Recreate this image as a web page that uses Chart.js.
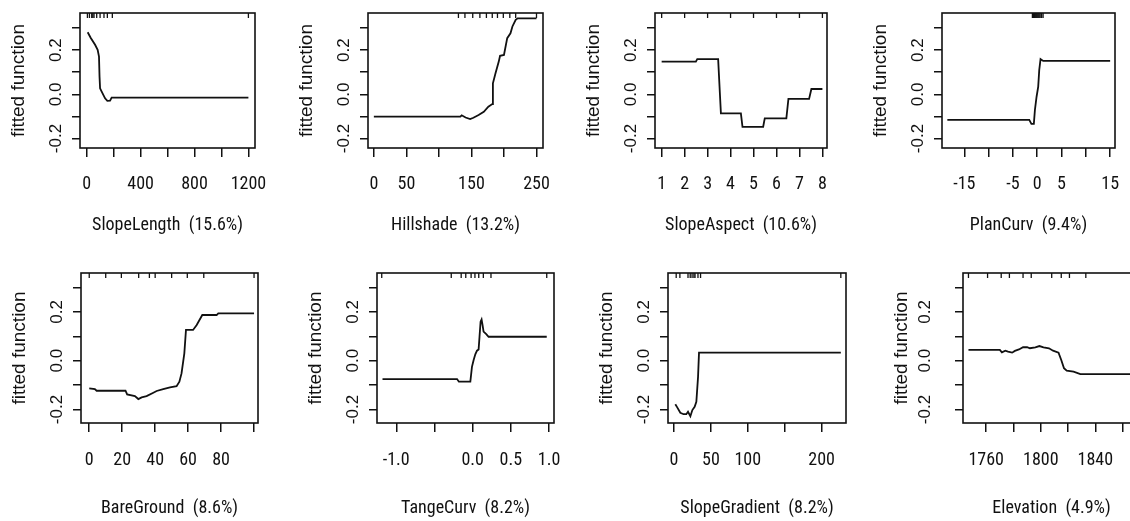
<!DOCTYPE html>
<html><head><meta charset="utf-8">
<script src="https://cdn.jsdelivr.net/npm/chart.js@4.4.1/dist/chart.umd.min.js"></script>
<style>
html,body{margin:0;padding:0;background:#fff;overflow:hidden;width:1130px;height:521px;position:relative;}
canvas{position:absolute;}
</style></head><body>
<script>
// ---------- data ----------
const yTicks = [-0.2, -0.1, 0, 0.1, 0.2, 0.3];
const yTickLabels = ['-0.2', '', '0.0', '', '0.2', ''];
const yTitle = 'fitted function';

const titles = ['SlopeLength  (15.6%)', 'Hillshade  (13.2%)', 'SlopeAspect  (10.6%)', 'PlanCurv  (9.4%)',
                'BareGround  (8.6%)', 'TangeCurv  (8.2%)', 'SlopeGradient  (8.2%)', 'Elevation  (4.9%)'];

const slopeLengthX = [7, 30, 62, 81, 91, 95, 99, 111, 136, 153, 173, 185, 1200];
const slopeLengthY = [0.281, 0.255, 0.224, 0.201, 0.171, 0.08, 0.027, 0.012, -0.018, -0.030, -0.029, -0.015, -0.015];
const slopeLengthRug = [5, 20, 37, 45, 54, 74, 99, 128, 153, 190, 1200];
const slopeLengthTicks = [0, 200, 400, 600, 800, 1000, 1200];
const slopeLengthTickLabels = ['0', '', '400', '', '800', '', '1200'];

const hillshadeX = [0, 133, 135, 141, 148, 153, 161, 169, 176, 182, 183, 187, 192, 194, 200, 205, 210, 213, 218, 221, 250];
const hillshadeY = [-0.101, -0.101, -0.095, -0.105, -0.112, -0.106, -0.094, -0.079, -0.056, -0.044, 0.05, 0.095, 0.148, 0.174, 0.178, 0.254, 0.276, 0.307, 0.337, 0.344, 0.344];
const hillshadeRug = [130, 140, 152, 163, 173, 182, 190, 199, 209, 218, 250];
const hillshadeTicks = [0, 50, 100, 150, 200, 250];
const hillshadeTickLabels = ['0', '50', '', '150', '', '250'];

const slopeAspectX = [1, 2.49, 2.55, 3.46, 3.52, 3.58, 4.45, 4.52, 5.42, 5.49, 6.43, 6.52, 7.42, 7.52, 8];
const slopeAspectY = [0.148, 0.148, 0.159, 0.159, 0.035, -0.086, -0.086, -0.147, -0.147, -0.109, -0.109, -0.021, -0.021, 0.024, 0.024];
const slopeAspectRug = [1, 2, 3, 4, 5, 6, 7, 8];
const slopeAspectTicks = [1, 2, 3, 4, 5, 6, 7, 8];
const slopeAspectTickLabels = ['1', '2', '3', '4', '5', '6', '7', '8'];

const planCurvX = [-18.5, -1.64, -1.2, -0.7, -0.48, -0.14, 0.2, 0.41, 0.68, 1.23, 15];
const planCurvY = [-0.116, -0.116, -0.134, -0.134, -0.071, -0.011, 0.035, 0.11, 0.159, 0.151, 0.151];
const planCurvRug = [-1, -0.8, -0.6, -0.4, -0.2, 0, 0.2, 0.4, 0.6, 0.9, 1.2];
const planCurvTicks = [-15, -10, -5, 0, 5, 10, 15];
const planCurvTickLabels = ['-15', '', '-5', '0', '5', '', '15'];

const bareGroundX = [0, 3.4, 4.5, 22, 23, 27.7, 29.8, 31.8, 34.8, 38.9, 40.9, 44.9, 49, 53, 54.7, 56, 57.7, 58.7, 63, 65.2, 68.6, 77.3, 78.3, 100];
const bareGroundY = [-0.113, -0.116, -0.123, -0.123, -0.138, -0.145, -0.157, -0.150, -0.145, -0.131, -0.124, -0.116, -0.109, -0.104, -0.086, -0.052, 0.03, 0.126, 0.126, 0.146, 0.187, 0.187, 0.194, 0.194];
const bareGroundRug = [0, 10, 19.5, 30, 36.5, 40, 50, 59.5, 69.5, 100];
const bareGroundTicks = [0, 20, 40, 60, 80, 100];
const bareGroundTickLabels = ['0', '20', '40', '60', '80', ''];

const tangeCurvX = [-1.18, -0.204, -0.18, -0.03, -0.009, 0.013, 0.035, 0.057, 0.078, 0.09, 0.104, 0.117, 0.13, 0.143, 0.178, 0.209, 0.97];
const tangeCurvY = [-0.075, -0.075, -0.086, -0.086, -0.025, 0.003, 0.026, 0.041, 0.046, 0.098, 0.16, 0.169, 0.146, 0.119, 0.109, 0.098, 0.098];
const tangeCurvRug = [-1.19, -0.28, -0.15, -0.09, -0.02, 0.03, 0.08, 0.14, 0.24, 0.97];
const tangeCurvTicks = [-1, -0.5, 0, 0.5, 1];
const tangeCurvTickLabels = ['-1.0', '', '0.0', '0.5', '1.0'];

const slopeGradientX = [1.8, 4, 8.6, 13, 16.7, 19, 22.2, 24.9, 28, 30.3, 32.6, 33.9, 226];
const slopeGradientY = [-0.178, -0.189, -0.213, -0.219, -0.219, -0.209, -0.227, -0.202, -0.189, -0.168, -0.066, 0.033, 0.033];
const slopeGradientRug = [3, 8, 19, 22, 24.5, 27, 28.5, 32.5, 36, 226];
const slopeGradientTicks = [0, 50, 100, 150, 200];
const slopeGradientTickLabels = ['0', '50', '100', '', '200'];

const elevationX = [1747, 1770, 1771.5, 1774, 1776, 1779, 1781, 1784, 1787, 1790, 1792, 1796, 1799, 1802, 1806, 1809, 1813, 1815, 1817, 1819, 1824, 1829, 1868];
const elevationY = [0.044, 0.044, 0.034, 0.041, 0.037, 0.033, 0.040, 0.046, 0.055, 0.055, 0.051, 0.055, 0.060, 0.055, 0.051, 0.041, 0.033, 0.003, -0.031, -0.041, -0.045, -0.055, -0.055];
const elevationRug = [1747, 1761, 1771, 1777, 1787, 1793, 1808, 1815, 1821, 1833, 1868];
const elevationTicks = [1760, 1780, 1800, 1820, 1840, 1860];
const elevationTickLabels = ['1760', '', '1800', '', '1840', ''];

// ---------- layout ----------
const NARROW = "'Roboto Condensed', 'Liberation Sans', Arial, sans-serif";
const SANS = "'Liberation Sans', Arial, sans-serif";
const rows = [
  {top: 0, height: 260, boxTop: 13, boxBottom: 148, yMin: -0.243, yMax: 0.368, tickPad: 16.3, titlePad: 23.4},
  {top: 260, height: 261, boxTop: 273, boxBottom: 423, yMin: -0.255, yMax: 0.359, tickPad: 17.5, titlePad: 1.4}
];
const panels = [
  {row: 0, boxL: 80,  boxR: 255,  xMin: -50,   xMax: 1249,   yPad: 1.4, x: slopeLengthX, y: slopeLengthY, rug: slopeLengthRug, ticks: slopeLengthTicks, labels: slopeLengthTickLabels},
  {row: 0, boxL: 368, boxR: 543,  xMin: -9,    xMax: 260,    yPad: 1.4, x: hillshadeX, y: hillshadeY, rug: hillshadeRug, ticks: hillshadeTicks, labels: hillshadeTickLabels},
  {row: 0, boxL: 655, boxR: 827,  xMin: 0.71,  xMax: 8.2,    yPad: 1.4, x: slopeAspectX, y: slopeAspectY, rug: slopeAspectRug, ticks: slopeAspectTicks, labels: slopeAspectTickLabels},
  {row: 0, boxL: 942, boxR: 1115, xMin: -19.6, xMax: 16,     yPad: 1.4, x: planCurvX, y: planCurvY, rug: planCurvRug, ticks: planCurvTicks, labels: planCurvTickLabels},
  {row: 1, boxL: 81,  boxR: 258,  xMin: -5,    xMax: 102.4,  yPad: 1.4, x: bareGroundX, y: bareGroundY, rug: bareGroundRug, ticks: bareGroundTicks, labels: bareGroundTickLabels},
  {row: 1, boxL: 377, boxR: 554,  xMin: -1.252,xMax: 1.065,  yPad: 1.4, x: tangeCurvX, y: tangeCurvY, rug: tangeCurvRug, ticks: tangeCurvTicks, labels: tangeCurvTickLabels},
  {row: 1, boxL: 668, boxR: 846,  xMin: -8.1,  xMax: 233,    yPad: 1.4, x: slopeGradientX, y: slopeGradientY, rug: slopeGradientRug, ticks: slopeGradientTicks, labels: slopeGradientTickLabels},
  {row: 1, boxL: 963, boxR: 1140, xMin: 1743,  xMax: 1872.7, yPad: 15.4, x: elevationX, y: elevationY, rug: elevationRug, ticks: elevationTicks, labels: elevationTickLabels}
];

const framePlugin = {
  id: 'frame',
  afterDraw(chart) {
    const {ctx, chartArea: a} = chart;
    ctx.save();
    ctx.strokeStyle = '#111';
    ctx.lineWidth = 1.6;
    ctx.strokeRect(a.left, a.top, a.right - a.left, a.bottom - a.top);
    ctx.restore();
  }
};

const INK = '#111';
const LEFT = 80, RIGHT = 12;

function build() {
  panels.forEach((p, k) => {
    const row = rows[p.row];
    const w = LEFT + (p.boxR - p.boxL) + RIGHT;
    const cv = document.createElement('canvas');
    cv.width = w; cv.height = row.height;
    cv.style.width = w + 'px'; cv.style.height = row.height + 'px';
    cv.style.left = (p.boxL - LEFT) + 'px'; cv.style.top = row.top + 'px';
    document.body.appendChild(cv);
    const gridOpts = (len) => ({drawOnChartArea: false, drawTicks: true, tickLength: len, tickColor: INK, tickWidth: 1.5, lineWidth: 1.5, color: INK});
    new Chart(cv, {
      type: 'scatter',
      data: {datasets: [
        {data: p.x.map((v, i) => ({x: v, y: p.y[i]})), showLine: true, borderColor: INK, borderWidth: 1.8,
         pointRadius: 0, tension: 0, fill: false},
        {data: p.rug.map(v => ({x: v, y: row.yMax})), showLine: false, pointStyle: 'line', pointRotation: 90,
         pointRadius: 5, pointBorderColor: INK, pointBorderWidth: 1.3, clip: 0}
      ]},
      options: {
        responsive: false, animation: false, devicePixelRatio: 1, events: [],
        layout: {padding: {top: row.boxTop - row.top, left: 0, right: RIGHT, bottom: 0}},
        plugins: {legend: {display: false}, tooltip: {enabled: false}},
        scales: {
          x: {type: 'linear', position: 'bottom', bounds: 'data', min: p.xMin, max: p.xMax,
            afterBuildTicks: s => { s.ticks = p.ticks.map(v => ({value: v})); },
            afterFit: s => { s.height = row.height - (row.boxBottom - row.top); s.paddingLeft = 0; s.paddingRight = 0; s.paddingTop = 0; s.paddingBottom = 0; },
            ticks: {autoSkip: false, minRotation: 0, maxRotation: 0, padding: row.tickPad, color: INK,
                    font: {family: NARROW, size: 18}, callback: (v, i) => p.labels[i]},
            grid: gridOpts(9), border: {display: false},
            title: {display: true, text: titles[k], color: INK, font: {family: NARROW, size: 18},
                    padding: {top: 0, bottom: row.titlePad}}
          },
          y: {type: 'linear', position: 'left', bounds: 'data', min: row.yMin, max: row.yMax,
            afterBuildTicks: s => { s.ticks = yTicks.map(v => ({value: v})); },
            afterFit: s => { s.width = LEFT; s.paddingTop = 0; s.paddingBottom = 0; s.paddingLeft = 0; s.paddingRight = 0; },
            ticks: {autoSkip: false, minRotation: 90, maxRotation: 90, crossAlign: 'center', padding: p.yPad,
                    color: INK, font: {family: SANS, size: 17}, callback: (v, i) => yTickLabels[i]},
            grid: gridOpts(8), border: {display: false},
            title: {display: true, text: yTitle, color: INK, font: {family: SANS, size: 19},
                    padding: {top: 7.1, bottom: 0}}
          }
        }
      },
      plugins: [framePlugin]
    });
  });
}

Promise.all([
  document.fonts.load("18px 'Roboto Condensed'"),
  document.fonts.load("18px 'Liberation Sans'")
]).catch(() => {}).then(build);
</script>
</body></html>
